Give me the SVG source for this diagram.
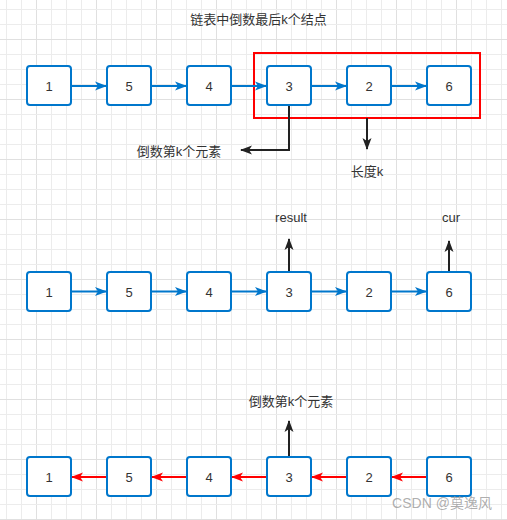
<svg xmlns="http://www.w3.org/2000/svg" width="507" height="520" viewBox="0 0 507 520">
  <defs>
    <pattern id="grid" x="6" y="9" width="60" height="60" patternUnits="userSpaceOnUse">
      <rect x="0" y="0" width="1" height="60" fill="#ececec"/>
      <rect x="15" y="0" width="1" height="60" fill="#ececec"/>
      <rect x="30" y="0" width="1" height="60" fill="#e0e0e0"/>
      <rect x="45" y="0" width="1" height="60" fill="#ececec"/>
      <rect x="0" y="0" width="60" height="1" fill="#ececec"/>
      <rect x="0" y="15" width="60" height="1" fill="#ececec"/>
      <rect x="0" y="30" width="60" height="1" fill="#e0e0e0"/>
      <rect x="0" y="45" width="60" height="1" fill="#ececec"/>
    </pattern>
    <marker id="blue" markerWidth="12" markerHeight="10" refX="11" refY="5" orient="auto" markerUnits="userSpaceOnUse">
      <path d="M0,0.5 L12,5 L0,9.5 L3,5 Z" fill="#0077cc"/>
    </marker>
    <marker id="red" markerWidth="12" markerHeight="10" refX="11" refY="5" orient="auto" markerUnits="userSpaceOnUse">
      <path d="M0,0.5 L12,5 L0,9.5 L3,5 Z" fill="#ff0000"/>
    </marker>
    <marker id="black" markerWidth="12" markerHeight="10" refX="11" refY="5" orient="auto" markerUnits="userSpaceOnUse">
      <path d="M0,0.5 L12,5 L0,9.5 L3,5 Z" fill="#222"/>
    </marker>
  </defs>
  <style>
    .node rect { fill: #ffffff; stroke: #0077cc; stroke-width: 2; }
    .node text, .lbl { font-family: "Liberation Sans", "Noto Sans CJK SC", sans-serif; font-size: 13px; fill: #333333; text-anchor: middle; }
    .b { stroke: #0077cc; stroke-width: 2; fill: none; marker-end: url(#blue); }
    .r { stroke: #ff0000; stroke-width: 2; fill: none; marker-end: url(#red); }
    .k { stroke: #222; stroke-width: 2; fill: none; marker-end: url(#black); }
  </style>
  <rect width="507" height="520" fill="#ffffff"/>
  <rect width="507" height="520" fill="url(#grid)"/>

  <text class="lbl" x="258.5" y="24">链表中倒数最后k个结点</text>

  <g id="highlight">
    <rect x="254" y="53" width="226" height="65" fill="none" stroke="#ff0000" stroke-width="2"/>
  </g>

  <g id="connectors">
    <!-- row 1 -->
    <line class="b" x1="71" y1="86" x2="106" y2="86"/>
    <line class="b" x1="151" y1="86" x2="186" y2="86"/>
    <line class="b" x1="231" y1="86" x2="266" y2="86"/>
    <line class="b" x1="311" y1="86" x2="346" y2="86"/>
    <line class="b" x1="391" y1="86" x2="426" y2="86"/>
    <polyline class="k" points="289,105 289,150 241,150"/>
    <line class="k" x1="367" y1="118" x2="367" y2="149"/>
    <!-- row 2 -->
    <line class="b" x1="71" y1="291.5" x2="106" y2="291.5"/>
    <line class="b" x1="151" y1="291.5" x2="186" y2="291.5"/>
    <line class="b" x1="231" y1="291.5" x2="266" y2="291.5"/>
    <line class="b" x1="311" y1="291.5" x2="346" y2="291.5"/>
    <line class="b" x1="391" y1="291.5" x2="426" y2="291.5"/>
    <line class="k" x1="289" y1="272" x2="289" y2="239"/>
    <line class="k" x1="449" y1="272" x2="449" y2="241"/>
    <!-- row 3 -->
    <line class="r" x1="107" y1="477" x2="72" y2="477"/>
    <line class="r" x1="187" y1="477" x2="152" y2="477"/>
    <line class="r" x1="267" y1="477" x2="232" y2="477"/>
    <line class="r" x1="347" y1="477" x2="312" y2="477"/>
    <line class="r" x1="427" y1="477" x2="392" y2="477"/>
    <line class="k" x1="289" y1="457" x2="289" y2="421"/>
  </g>

  <!-- row 1 nodes -->
  <g id="r1n1" class="node"><rect x="27" y="66" width="44" height="39" rx="3"/><text x="49" y="90.5">1</text></g>
  <g id="r1n2" class="node"><rect x="107" y="66" width="44" height="39" rx="3"/><text x="129" y="90.5">5</text></g>
  <g id="r1n3" class="node"><rect x="187" y="66" width="44" height="39" rx="3"/><text x="209" y="90.5">4</text></g>
  <g id="r1n4" class="node"><rect x="267" y="66" width="44" height="39" rx="3"/><text x="289" y="90.5">3</text></g>
  <g id="r1n5" class="node"><rect x="347" y="66" width="44" height="39" rx="3"/><text x="369" y="90.5">2</text></g>
  <g id="r1n6" class="node"><rect x="427" y="66" width="44" height="39" rx="3"/><text x="449" y="90.5">6</text></g>

  <g id="lbl1"><text class="lbl" x="179" y="156">倒数第k个元素</text></g>
  <g id="lbl2"><text class="lbl" x="367" y="176">长度k</text></g>

  <!-- row 2 nodes -->
  <g id="r2n1" class="node"><rect x="27" y="272" width="44" height="39" rx="3"/><text x="49" y="296.5">1</text></g>
  <g id="r2n2" class="node"><rect x="107" y="272" width="44" height="39" rx="3"/><text x="129" y="296.5">5</text></g>
  <g id="r2n3" class="node"><rect x="187" y="272" width="44" height="39" rx="3"/><text x="209" y="296.5">4</text></g>
  <g id="r2n4" class="node"><rect x="267" y="272" width="44" height="39" rx="3"/><text x="289" y="296.5">3</text></g>
  <g id="r2n5" class="node"><rect x="347" y="272" width="44" height="39" rx="3"/><text x="369" y="296.5">2</text></g>
  <g id="r2n6" class="node"><rect x="427" y="272" width="44" height="39" rx="3"/><text x="449" y="296.5">6</text></g>

  <g id="lbl3"><text class="lbl" x="291" y="222">result</text></g>
  <g id="lbl4"><text class="lbl" x="451" y="222">cur</text></g>

  <!-- row 3 nodes -->
  <g id="r3n1" class="node"><rect x="27" y="457" width="44" height="39" rx="3"/><text x="49" y="481.5">1</text></g>
  <g id="r3n2" class="node"><rect x="107" y="457" width="44" height="39" rx="3"/><text x="129" y="481.5">5</text></g>
  <g id="r3n3" class="node"><rect x="187" y="457" width="44" height="39" rx="3"/><text x="209" y="481.5">4</text></g>
  <g id="r3n4" class="node"><rect x="267" y="457" width="44" height="39" rx="3"/><text x="289" y="481.5">3</text></g>
  <g id="r3n5" class="node"><rect x="347" y="457" width="44" height="39" rx="3"/><text x="369" y="481.5">2</text></g>
  <g id="r3n6" class="node"><rect x="427" y="457" width="44" height="39" rx="3"/><text x="449" y="481.5">6</text></g>

  <g id="lbl5"><text class="lbl" x="291" y="406">倒数第k个元素</text></g>

  <text x="442" y="508" font-family="Liberation Sans, Noto Sans CJK SC, sans-serif" font-size="14" fill="#999999" fill-opacity="0.8" text-anchor="middle">CSDN @莫逸风</text>
</svg>
